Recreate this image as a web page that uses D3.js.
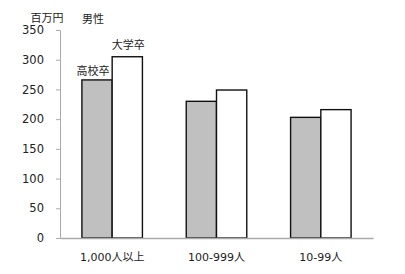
<!DOCTYPE html>
<html><head><meta charset="utf-8">
<script src="https://cdn.jsdelivr.net/npm/d3@7"></script>
<style>
body{margin:0;background:#fff;}
text{font-family:"DejaVu Sans","Noto Sans CJK JP",sans-serif;fill:#222;}
</style></head><body>
<svg id="c" width="405" height="274"></svg>
<script>
const categories = ["1,000人以上", "100-999人", "10-99人"];
const series = ["高校卒", "大学卒"];
const highSchool = [266, 230, 203];
const university = [305, 249, 216];
const yTicks = [0, 50, 100, 150, 200, 250, 300, 350];
const colors = ["#c0c0c0", "#ffffff"];

const svg = d3.select("#c");
const x0 = 60, x1 = 373, yb = 238, yt = 30;
const x = d3.scaleBand().domain(categories).range([x0, x1]).paddingInner(0.42).paddingOuter(0.21);
const xs = d3.scaleBand().domain(series).range([0, x.bandwidth()]);
const y = d3.scaleLinear().domain([0, 350]).range([yb, yt]);

// y axis
const ya = svg.append("g").attr("transform", `translate(${x0},0)`)
  .call(d3.axisLeft(y).tickValues(yTicks).tickSize(4).tickPadding(12));
ya.select(".domain").attr("stroke", "#aaa");
ya.selectAll(".tick line").attr("stroke", "#aaa");
ya.selectAll(".tick text").style("font-size", "11.5px").attr("fill", "#222");

const data = categories.map((c, i) => ({c, vals: [highSchool[i], university[i]]}));
const g = svg.append("g");
data.forEach(d => {
  d.vals.forEach((v, j) => {
    g.append("rect")
      .attr("x", x(d.c) + xs(series[j]))
      .attr("y", y(v))
      .attr("width", xs.bandwidth())
      .attr("height", yb - y(v))
      .attr("fill", colors[j])
      .attr("stroke", "#111")
      .attr("stroke-width", 1.4);
  });
});

// x axis
const xa = svg.append("g").attr("transform", `translate(0,${yb})`)
  .call(d3.axisBottom(x).tickSize(0).tickPadding(15));
xa.select(".domain").attr("stroke", "#aaa").attr("stroke-width", 1.5);
xa.selectAll(".tick text").style("font-size", "11px").attr("fill", "#222");

// labels
svg.append("text").attr("x", 47).attr("y", 22).attr("text-anchor", "middle").style("font-size", "11px").text("百万円");
svg.append("text").attr("x", 93).attr("y", 23).attr("text-anchor", "middle").style("font-size", "11px").text("男性");
const c0 = categories[0];
svg.append("text").attr("x", x(c0) + xs(series[1]) + xs.bandwidth()/2 + 1).attr("y", y(university[0]) - 8)
  .attr("text-anchor", "middle").style("font-size", "11px").text(series[1]);
svg.append("text").attr("x", x(c0) + xs(series[0]) + xs.bandwidth()/2 - 4).attr("y", y(highSchool[0]) - 5)
  .attr("text-anchor", "middle").style("font-size", "11px").text(series[0]);
</script></body></html>
